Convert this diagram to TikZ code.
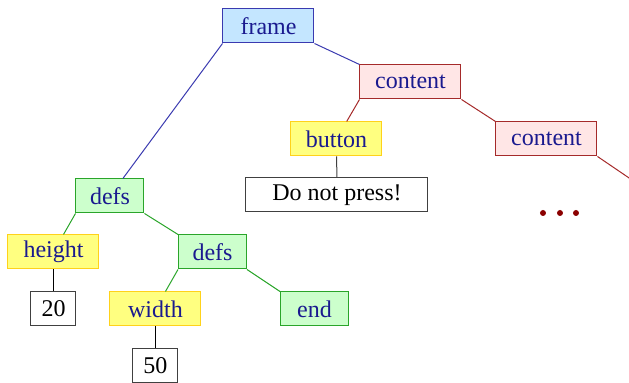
\documentclass[tikz,border=0pt]{standalone}
\usepackage{fontspec}
\setmainfont{Liberation Serif}

\definecolor{labelblue}{HTML}{1A1A8F}
\definecolor{frameline}{HTML}{3A3AB0}
\definecolor{framefill}{HTML}{C4E6FF}
\definecolor{contentline}{HTML}{A52A2A}
\definecolor{contentfill}{HTML}{FFE6E6}
\definecolor{fieldline}{HTML}{FFD21A}
\definecolor{fieldfill}{HTML}{FFFF80}
\definecolor{defsline}{HTML}{2AA52A}
\definecolor{defsfill}{HTML}{CCFFCC}
\definecolor{dotred}{HTML}{8B0000}

\begin{document}
\begin{tikzpicture}[x=0.5pt, y=-0.5pt, font=\fontsize{12}{14}\selectfont,
  box/.style={rectangle, draw, line width=0.5pt, minimum height=17pt, inner sep=1pt, text=labelblue},
  framebox/.style={box, draw=frameline, fill=framefill, minimum width=45.5pt},
  contentbox/.style={box, draw=contentline, fill=contentfill, minimum width=50.5pt},
  fieldbox/.style={box, draw=fieldline, fill=fieldfill, minimum width=45.5pt},
  defsbox/.style={box, draw=defsline, fill=defsfill, minimum width=34pt},
  valuebox/.style={box, draw=black!75, fill=white, text=black, minimum width=22.5pt},
  edge/.style={line width=0.5pt}]

\useasboundingbox (0,0) rectangle (629,383);
\clip (0,0) rectangle (629,383);

% the tree, top down
\node[framebox] (frame) at (268.5,26) {frame};
\node[contentbox] (content) at (410.5,82) {content};
\node[fieldbox] (button) at (336.5,139) {button};
\node[valuebox, minimum width=91pt] (press) at (337,195) {Do not press!};
\node[contentbox] (content2) at (546.5,139) {content};
\coordinate (more) at (660,199);

\node[defsbox] (defs) at (110,196) {defs};
\node[fieldbox] (height) at (53.5,252) {height};
\node[valuebox] (twenty) at (53.5,309) {20};
\node[defsbox] (defs2) at (212.5,252) {defs};
\node[fieldbox] (width) at (155.5,309) {width};
\node[valuebox] (fifty) at (155.5,366) {50};
\node[defsbox] (end) at (314.5,309) {end};

% edges
\draw[edge, frameline] (frame.south west) -- (defs);
\draw[edge, frameline] (frame.south east) -- (content.north west);
\draw[edge, contentline] (content.south west) -- (button);
\draw[edge, contentline] (content.south east) -- (content2.north west);
\draw[edge, contentline] (content2.south east) -- (more);
\draw[edge, black!75] (button) -- (press);

\draw[edge, defsline] (defs.south west) -- (height);
\draw[edge, defsline] (defs.south east) -- (defs2.north west);
\draw[edge, defsline] (defs2.south west) -- (width);
\draw[edge, defsline] (defs2.south east) -- (end.north west);
\draw[edge, black] (height) -- (twenty);
\draw[edge, black] (width) -- (fifty);

% the rest of the list
\foreach \x in {543,560,576}
  \fill[dotred] (\x,213) circle (3);

\end{tikzpicture}
\end{document}
